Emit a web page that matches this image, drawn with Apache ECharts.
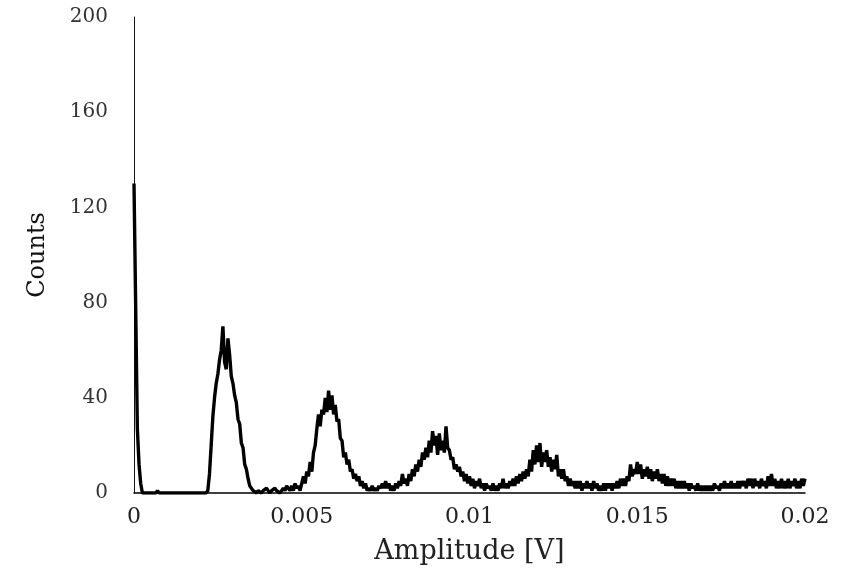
<!DOCTYPE html>
<html>
<head>
<meta charset="utf-8">
<script src="https://cdn.jsdelivr.net/npm/echarts@6/dist/echarts.min.js"></script>
<style>
  html, body { margin: 0; padding: 0; background: #fff; }
  #chart { width: 853px; height: 571px; }
</style>
</head>
<body>
<div id="chart"></div>
<script>
// histogram bin width [V], bin i sits at i * binWidth
var binWidth = 0.00005;

// counts per bin (20 bins per row)
var counts = [
  130,130,27,12,4,0,0,0,0,0, 0,0,0,0,1,0,0,0,0,0,
  0,0,0,0,0,0,0,0,0,0, 0,0,0,0,0,0,0,0,0,0,
  0,0,0,0,1,8,20,32,40,46, 50,56,60,70,55,52,65,58,49,46,
  41,38,31,29,21,19,12,10,6,3, 2,1,1,0,1,1,0,1,1,2,
  1,0,1,1,2,1,1,0,1,2, 1,3,2,1,3,1,4,2,3,1,
  4,7,4,9,7,13,9,17,20,27, 33,28,35,33,40,34,43,35,41,33,
  37,30,31,23,22,15,17,12,14,9, 10,6,8,5,7,3,5,2,4,1,
  2,1,3,1,2,1,3,2,4,2, 5,2,4,1,3,1,4,2,5,3,
  8,4,6,3,8,5,10,7,12,9, 14,11,17,14,19,15,22,17,26,20,
  24,16,25,18,22,17,28,19,18,14, 15,10,12,9,11,7,9,5,8,4,
  7,3,6,2,5,3,6,2,4,1, 4,2,3,1,4,1,3,1,4,2,
  6,2,4,2,5,3,6,3,7,4, 8,5,9,6,10,7,14,9,18,12,
  20,13,21,11,17,13,18,11,15,9, 14,10,16,7,10,6,10,5,7,3,
  6,3,5,2,5,2,5,1,4,2, 5,2,4,1,5,2,4,1,3,1,
  4,1,4,2,4,1,4,2,5,2, 6,3,6,3,7,5,12,7,10,8,
  13,8,12,6,10,7,11,6,10,5, 9,6,10,5,8,4,8,3,7,3,
  6,3,6,2,5,2,5,2,5,2, 4,1,4,2,3,1,4,1,3,1,
  3,1,3,1,3,1,4,2,3,1, 4,2,5,2,4,2,5,2,4,2,
  5,2,5,3,5,2,6,3,6,2, 6,3,5,2,6,3,5,2,7,3,
  8,3,6,2,5,2,6,2,5,2, 6,2,5,3,6,2,5,2,6,3,
  6
];

var xTickLabels = ["0", "0.005", "0.01", "0.015", "0.02"];
var yTickLabels = ["0", "40", "80", "120", "160", "200"];

var data = counts.map(function (c, i) {
  return [+(i * binWidth).toFixed(6), c];
});

var chart = echarts.init(document.getElementById("chart"), null, { renderer: "canvas" });

var option = {
  backgroundColor: "#fff",
  animation: false,
  grid: { left: 134, right: 48, top: 17, bottom: 78 },
  xAxis: {
    type: "value",
    min: 0,
    max: 0.02,
    interval: 0.005,
    name: "Amplitude [V]",
    nameLocation: "middle",
    nameGap: 45,
    nameTextStyle: { fontFamily: "DejaVu Serif", fontSize: 27, color: "#222" },
    axisLine: { show: true, onZero: false, lineStyle: { color: "#000", width: 1.5 } },
    axisTick: { show: false },
    splitLine: { show: false },
    axisLabel: {
      margin: 13,
      fontFamily: "DejaVu Serif",
      fontSize: 22,
      color: "#222",
      formatter: function (v) {
        return xTickLabels[Math.round(v / 0.005)];
      }
    }
  },
  yAxis: {
    type: "value",
    min: 0,
    max: 200,
    interval: 40,
    name: "Counts",
    nameLocation: "middle",
    nameGap: 84,
    nameRotate: 90,
    nameTextStyle: { fontFamily: "DejaVu Serif", fontSize: 24, color: "#111" },
    axisLine: { show: true, lineStyle: { color: "#111", width: 1 } },
    axisTick: { show: false },
    splitLine: { show: false },
    axisLabel: {
      margin: 26,
      fontFamily: "DejaVu Serif",
      fontSize: 20,
      color: "#333",
      formatter: function (v) {
        return yTickLabels[Math.round(v / 40)];
      }
    }
  },
  series: [
    {
      type: "line",
      data: data,
      showSymbol: false,
      clip: true,
      lineStyle: { color: "#000", width: 3.4 }
    }
  ]
};

chart.setOption(option);
</script>
</body>
</html>
